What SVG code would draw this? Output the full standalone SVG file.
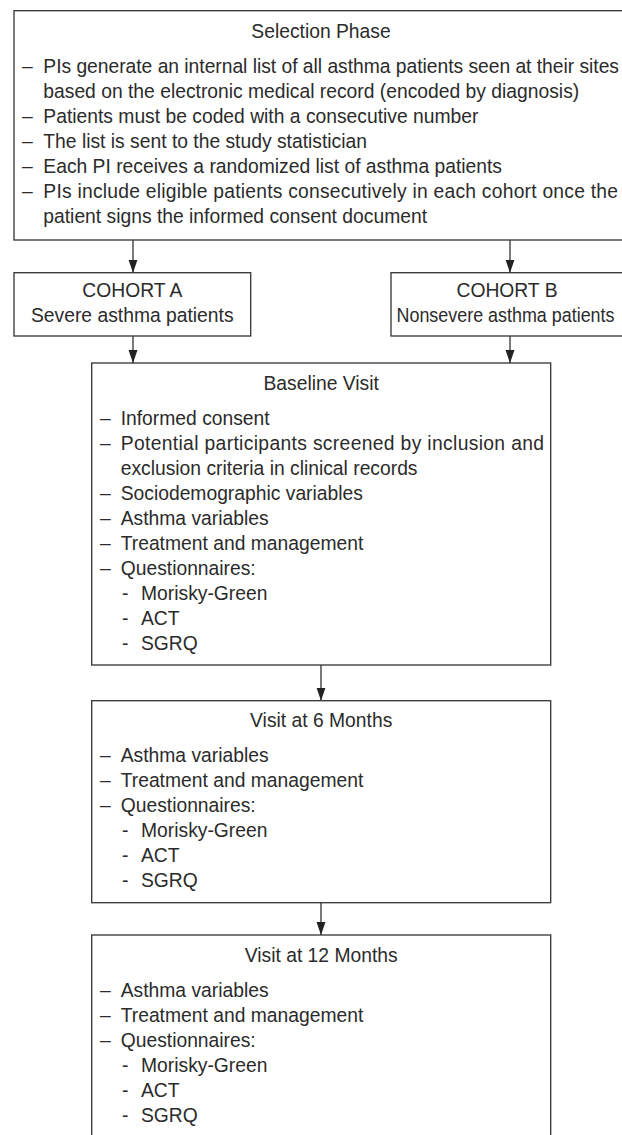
<svg xmlns="http://www.w3.org/2000/svg" width="622" height="1135" viewBox="0 0 622 1135">
<style>
.box{fill:#fff;stroke:#333;stroke-width:1.3}
text{font-family:"Liberation Sans",Arial,sans-serif;font-size:19.3px;fill:#2b2b2b}
.c{text-anchor:middle}
.con{stroke:#333;stroke-width:1.3;fill:none}
</style>
<defs>
<marker id="ah" markerUnits="userSpaceOnUse" markerWidth="14" markerHeight="10" refX="13" refY="4.5" orient="auto">
<path d="M0,0 L13,4.5 L0,9 z" fill="#222"/>
</marker>
</defs>
<rect width="622" height="1135" fill="#fff"/>
<g id="connectors">
<line class="con" x1="133" y1="240" x2="133" y2="272.7" marker-end="url(#ah)"/>
<line class="con" x1="510" y1="240" x2="510" y2="272.7" marker-end="url(#ah)"/>
<line class="con" x1="133" y1="336" x2="133" y2="363" marker-end="url(#ah)"/>
<line class="con" x1="510" y1="336" x2="510" y2="363" marker-end="url(#ah)"/>
<line class="con" x1="321" y1="665" x2="321" y2="700.7" marker-end="url(#ah)"/>
<line class="con" x1="321" y1="902.7" x2="321" y2="935" marker-end="url(#ah)"/>
</g>
<g id="selection">
<rect class="box" x="14" y="10.7" width="614" height="229.3"/>
<text class="c" x="321" y="37.5">Selection Phase</text>
<text x="22" y="72.5">–</text><text x="43.3" y="72.5" textLength="575.7" lengthAdjust="spacing">PIs generate an internal list of all asthma patients seen at their sites</text>
<text x="43.3" y="97.5">based on the electronic medical record (encoded by diagnosis)</text>
<text x="22" y="122.5">–</text><text x="43.3" y="122.5">Patients must be coded with a consecutive number</text>
<text x="22" y="147.5">–</text><text x="43.3" y="147.5">The list is sent to the study statistician</text>
<text x="22" y="172.5">–</text><text x="43.3" y="172.5">Each PI receives a randomized list of asthma patients</text>
<text x="22" y="197.5">–</text><text x="43.3" y="197.5" textLength="574.7" lengthAdjust="spacing">PIs include eligible patients consecutively in each cohort once the</text>
<text x="43.3" y="222.5">patient signs the informed consent document</text>
</g>
<g id="cohortA">
<rect class="box" x="14" y="272.7" width="236.7" height="63.3"/>
<text class="c" x="132.3" y="297">COHORT A</text>
<text class="c" x="132.3" y="322">Severe asthma patients</text>
</g>
<g id="cohortB">
<rect class="box" x="391" y="272.7" width="238" height="63.3"/>
<text class="c" x="507" y="297">COHORT B</text>
<text x="396.5" y="322" textLength="218" lengthAdjust="spacingAndGlyphs">Nonsevere asthma patients</text>
</g>
<g id="baseline">
<rect class="box" x="91.7" y="363" width="459" height="302"/>
<text class="c" x="321.2" y="390">Baseline Visit</text>
<text x="100" y="425">–</text><text x="120.7" y="425">Informed consent</text>
<text x="100" y="450">–</text><text x="120.7" y="450" textLength="423.3" lengthAdjust="spacing">Potential participants screened by inclusion and</text>
<text x="120.7" y="475">exclusion criteria in clinical records</text>
<text x="100" y="500">–</text><text x="120.7" y="500">Sociodemographic variables</text>
<text x="100" y="525">–</text><text x="120.7" y="525">Asthma variables</text>
<text x="100" y="550">–</text><text x="120.7" y="550">Treatment and management</text>
<text x="100" y="575">–</text><text x="120.7" y="575">Questionnaires:</text>
<text x="122" y="600">-</text><text x="141" y="600">Morisky-Green</text>
<text x="122" y="625">-</text><text x="141" y="625">ACT</text>
<text x="122" y="650">-</text><text x="141" y="650">SGRQ</text>
</g>
<g id="visit6">
<rect class="box" x="91.7" y="700.7" width="459" height="202"/>
<text class="c" x="321.2" y="727">Visit at 6 Months</text>
<text x="100" y="762">–</text><text x="120.7" y="762">Asthma variables</text>
<text x="100" y="787">–</text><text x="120.7" y="787">Treatment and management</text>
<text x="100" y="812">–</text><text x="120.7" y="812">Questionnaires:</text>
<text x="122" y="837">-</text><text x="141" y="837">Morisky-Green</text>
<text x="122" y="862">-</text><text x="141" y="862">ACT</text>
<text x="122" y="887">-</text><text x="141" y="887">SGRQ</text>
</g>
<g id="visit12">
<rect class="box" x="91.7" y="935" width="459" height="220"/>
<text class="c" x="321.2" y="962">Visit at 12 Months</text>
<text x="100" y="997">–</text><text x="120.7" y="997">Asthma variables</text>
<text x="100" y="1022">–</text><text x="120.7" y="1022">Treatment and management</text>
<text x="100" y="1047">–</text><text x="120.7" y="1047">Questionnaires:</text>
<text x="122" y="1072">-</text><text x="141" y="1072">Morisky-Green</text>
<text x="122" y="1097">-</text><text x="141" y="1097">ACT</text>
<text x="122" y="1122">-</text><text x="141" y="1122">SGRQ</text>
</g>
</svg>
